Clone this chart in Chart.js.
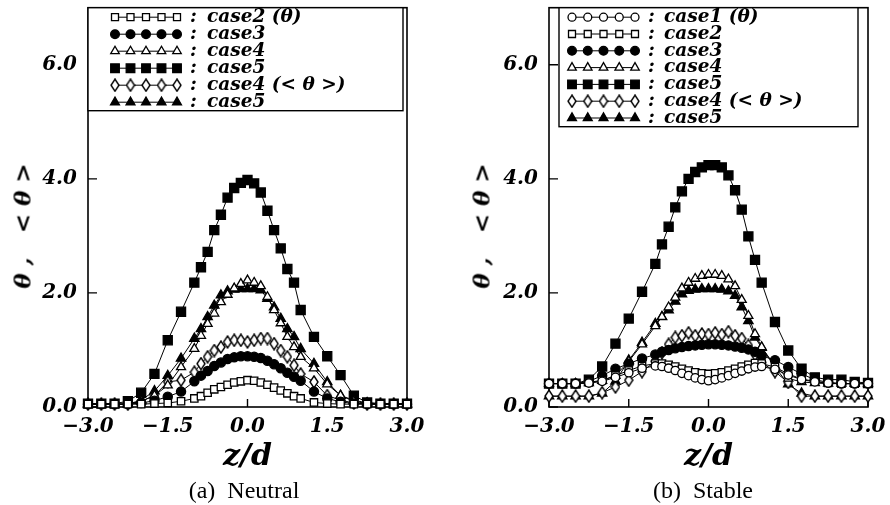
<!DOCTYPE html>
<html>
<head>
<meta charset="utf-8">
<script src="https://cdn.jsdelivr.net/npm/chart.js@4.4.1/dist/chart.umd.min.js"></script>
<style>
  html, body { margin: 0; padding: 0; background: #fff; }
  #wrap { position: relative; width: 890px; height: 505px; overflow: hidden; background: #fff; }
  canvas { position: absolute; top: 0; }
  .ytitle { position: absolute; transform: translate(-50%, -50%) rotate(-90deg); white-space: pre;
            font: italic bold 23px "DejaVu Serif"; color: #000; }
  .cap { position: absolute; transform: translate(-50%, -50%); white-space: pre;
         font: 24px "Liberation Serif"; color: #000; }
</style>
</head>
<body>
<div id="wrap">
  <canvas id="neutral" width="445" height="505" style="left:0"></canvas>
  <canvas id="stable" width="445" height="505" style="left:445px"></canvas>
  <div class="ytitle" style="left:22px; top:226px">θ ,   &lt; θ &gt;</div>
  <div class="ytitle" style="left:481px; top:226px">θ ,   &lt; θ &gt;</div>
  <div class="cap" style="left:244px; top:490px">(a)  Neutral</div>
  <div class="cap" style="left:703px; top:490px">(b)  Stable</div>
</div>
<script>
// ---------------- data ----------------
const zValues = [-3, -2.75, -2.5, -2.25, -2, -1.75, -1.5, -1.25, -1, -0.875, -0.75, -0.625, -0.5, -0.375, -0.25, -0.125,
                 0, 0.125, 0.25, 0.375, 0.5, 0.625, 0.75, 0.875, 1, 1.25, 1.5, 1.75, 2, 2.25, 2.5, 2.75, 3];
const xTickValues = [-3, -1.5, 0, 1.5, 3];
const xTickLabels = ['\u22123.0', '\u22121.5', '0.0', '1.5', '3.0'];
const yTickValues = [0, 1, 2, 3, 4, 5, 6, 7];
const yTickLabels = ['0.0', null, '2.0', null, '4.0', null, '6.0', null];
const xTitle = 'z/d';

// (a) Neutral
const neutralLabels = ['case2 (\u03b8)', 'case3', 'case4', 'case5', 'case4 (< \u03b8 >)', 'case5'];
const neutralCase2 = [0.05,0.05,0.05,0.05,0.05,0.06,0.07,0.10,0.15,0.19,0.25,0.31,0.35,0.39,0.43,0.45,0.47,0.46,0.43,0.39,0.34,0.29,0.24,0.19,0.15,0.08,0.06,0.05,0.05,0.05,0.05,0.05,0.05];
const neutralCase3 = [0.05,0.05,0.05,0.05,0.07,0.11,0.18,0.27,0.45,0.55,0.63,0.72,0.78,0.84,0.87,0.89,0.89,0.88,0.86,0.81,0.75,0.68,0.60,0.53,0.46,0.27,0.15,0.09,0.06,0.05,0.05,0.05,0.05];
const neutralCase4 = [0.05,0.05,0.05,0.05,0.10,0.20,0.38,0.70,1.02,1.25,1.46,1.64,1.84,1.97,2.08,2.16,2.22,2.18,2.12,1.93,1.70,1.47,1.23,1.05,0.88,0.68,0.40,0.20,0.10,0.06,0.05,0.05,0.05];
const neutralCase5 = [0.06,0.06,0.06,0.10,0.25,0.58,1.17,1.67,2.18,2.45,2.72,3.10,3.37,3.67,3.84,3.93,3.98,3.92,3.76,3.44,3.10,2.78,2.42,2.18,1.70,1.23,0.89,0.56,0.20,0.08,0.06,0.06,0.06];
const neutralCase4Mean = [0.05,0.05,0.05,0.05,0.10,0.20,0.44,0.47,0.61,0.76,0.88,0.99,1.05,1.14,1.17,1.17,1.14,1.17,1.20,1.20,1.11,0.99,0.88,0.73,0.58,0.44,0.20,0.12,0.07,0.05,0.05,0.05,0.05];
const neutralCase5Mean = [0.05,0.05,0.05,0.05,0.12,0.28,0.55,0.85,1.20,1.37,1.58,1.78,1.96,2.03,2.06,2.07,2.07,2.07,2.05,1.90,1.75,1.55,1.37,1.23,1.02,0.76,0.44,0.20,0.12,0.07,0.05,0.05,0.05];

// (b) Stable
const stableLabels = ['case1 (\u03b8)', 'case2', 'case3', 'case4', 'case5', 'case4 (< \u03b8 >)', 'case5'];
const stableCase1 = [0.41,0.41,0.41,0.42,0.45,0.52,0.60,0.68,0.72,0.71,0.68,0.64,0.59,0.55,0.51,0.48,0.46,0.48,0.51,0.55,0.59,0.63,0.67,0.70,0.71,0.66,0.56,0.48,0.44,0.42,0.41,0.41,0.41];
const stableCase2 = [0.41,0.41,0.41,0.43,0.47,0.55,0.64,0.72,0.76,0.76,0.74,0.71,0.67,0.64,0.61,0.59,0.58,0.59,0.61,0.64,0.67,0.71,0.74,0.77,0.76,0.70,0.58,0.49,0.45,0.42,0.41,0.41,0.41];
const stableCase3 = [0.41,0.41,0.41,0.45,0.55,0.67,0.76,0.85,0.92,0.97,1.00,1.03,1.05,1.07,1.08,1.09,1.10,1.10,1.09,1.08,1.06,1.04,1.01,0.97,0.90,0.82,0.70,0.58,0.48,0.43,0.41,0.41,0.41];
const stableCase4 = [0.41,0.41,0.41,0.42,0.46,0.55,0.80,1.10,1.42,1.58,1.75,1.92,2.08,2.18,2.25,2.30,2.32,2.32,2.30,2.24,2.12,1.88,1.60,1.28,1.05,0.72,0.50,0.44,0.42,0.41,0.41,0.41,0.41];
const stableCase5 = [0.41,0.41,0.41,0.48,0.71,1.11,1.55,2.02,2.51,2.85,3.16,3.50,3.78,4.00,4.12,4.20,4.24,4.24,4.20,4.06,3.80,3.46,2.99,2.58,2.18,1.49,0.99,0.67,0.52,0.48,0.48,0.44,0.42];
const stableCase4Mean = [0.19,0.19,0.19,0.19,0.25,0.35,0.47,0.62,0.80,0.95,1.10,1.22,1.25,1.30,1.25,1.28,1.27,1.30,1.27,1.32,1.25,1.20,1.08,0.92,0.78,0.62,0.43,0.19,0.19,0.19,0.19,0.19,0.19];
const stableCase5Mean = [0.19,0.19,0.19,0.19,0.24,0.45,0.82,1.13,1.46,1.58,1.70,1.85,1.98,2.04,2.06,2.07,2.07,2.07,2.06,2.03,1.95,1.75,1.51,1.22,1.04,0.70,0.40,0.24,0.19,0.19,0.19,0.19,0.19];

// ---------------- styles ----------------
function makeDiamond() {
  const c = document.createElement('canvas');
  c.width = 10; c.height = 14;
  const g = c.getContext('2d');
  g.beginPath();
  g.moveTo(5, 1); g.lineTo(9, 7); g.lineTo(5, 13); g.lineTo(1, 7); g.closePath();
  g.fillStyle = '#fff'; g.fill();
  g.strokeStyle = '#000'; g.lineWidth = 1.4; g.stroke();
  return c;
}
const diamond = makeDiamond();
const markers = {
  c1:  { pointStyle: 'circle',   pointRadius: 4.2, pointBackgroundColor: '#fff' },
  c2:  { pointStyle: 'rect',     pointRadius: 5.2, pointBackgroundColor: '#fff' },
  c3:  { pointStyle: 'circle',   pointRadius: 4.6, pointBackgroundColor: '#000' },
  c4:  { pointStyle: 'triangle', pointRadius: 5.2, pointBackgroundColor: '#fff' },
  c5:  { pointStyle: 'rect',     pointRadius: 6.4, pointBackgroundColor: '#000' },
  c4m: { pointStyle: diamond,    pointRadius: 5,   pointBackgroundColor: '#fff' },
  c5m: { pointStyle: 'triangle', pointRadius: 5.4, pointBackgroundColor: '#000' }
};

function series(label, values, mk) {
  return Object.assign({
    label: label,
    data: zValues.map((z, i) => ({ x: z, y: values[i] })),
    showLine: true,
    borderColor: '#000',
    borderWidth: 1,
    pointBorderColor: '#000',
    pointBorderWidth: 1.3,
    pointHoverRadius: mk.pointRadius,
    clip: false
  }, mk);
}

const tickFont = { family: 'DejaVu Serif', style: 'italic', weight: 'bold', size: 20 };

// frame + inward ticks
const framePlugin = {
  id: 'frame',
  beforeDatasetsDraw(chart) {
    const { ctx, chartArea: a, scales } = chart;
    ctx.save();
    ctx.strokeStyle = '#000';
    ctx.lineWidth = 1.6;
    ctx.strokeRect(a.left, a.top, a.right - a.left, a.bottom - a.top);
    ctx.lineWidth = 1.4;
    ctx.beginPath();
    scales.x.ticks.forEach(t => {
      const px = scales.x.getPixelForValue(t.value);
      ctx.moveTo(px, a.bottom); ctx.lineTo(px, a.bottom - 8);
    });
    scales.y.ticks.forEach(t => {
      const py = scales.y.getPixelForValue(t.value);
      ctx.moveTo(a.left, py); ctx.lineTo(a.left + 9, py);
    });
    ctx.stroke();
    ctx.restore();
  }
};

// boxed legend with 5-marker samples
const boxLegend = {
  id: 'boxLegend',
  afterDatasetsDraw(chart, args, o) {
    const { ctx, chartArea: a } = chart;
    const L = a.left + o.insetL, R = a.right - o.insetR, T = a.top, B = a.top + o.height;
    ctx.save();
    ctx.fillStyle = '#fff';
    ctx.fillRect(L, T, R - L, B - T);
    ctx.strokeStyle = '#000';
    ctx.lineWidth = 1.4;
    ctx.strokeRect(L, T, R - L, B - T);
    chart.data.datasets.forEach((ds, i) => {
      const y = T + o.first + i * o.step;
      const x0 = L + o.sampleX, x1 = x0 + o.sampleW;
      ctx.strokeStyle = '#000';
      ctx.lineWidth = 1;
      ctx.beginPath(); ctx.moveTo(x0, y); ctx.lineTo(x1, y); ctx.stroke();
      for (let k = 0; k < 5; k++) {
        const x = x0 + k * (x1 - x0) / 4;
        ctx.fillStyle = ds.pointBackgroundColor;
        ctx.strokeStyle = '#000';
        ctx.lineWidth = 1.3;
        Chart.helpers.drawPoint(ctx, { pointStyle: ds.pointStyle, radius: ds.pointRadius * 0.95, borderWidth: 1.3, rotation: 0 }, x, y);
      }
      ctx.fillStyle = '#000';
      ctx.font = 'italic bold 18.5px "DejaVu Serif"';
      ctx.textBaseline = 'middle';
      ctx.textAlign = 'left';
      ctx.fillText(':', L + o.colonX, y);
      ctx.fillText(ds.label, L + o.textX, y);
    });
    ctx.restore();
  }
};

function makeChart(id, datasets, yWidth, rightPad, legendOpts) {
  return new Chart(document.getElementById(id), {
    type: 'scatter',
    data: { datasets: datasets },
    plugins: [framePlugin, boxLegend],
    options: {
      responsive: false,
      maintainAspectRatio: false,
      animation: false,
      events: [],
      layout: { padding: { left: 0, right: rightPad, top: 4.5, bottom: 0 } },
      plugins: {
        legend: { display: false },
        tooltip: { enabled: false },
        boxLegend: legendOpts
      },
      scales: {
        x: {
          type: 'linear', min: -3, max: 3,
          afterBuildTicks: s => { s.ticks = xTickValues.map(v => ({ value: v })); },
          ticks: {
            callback: v => xTickLabels[xTickValues.indexOf(v)],
            font: tickFont, color: '#000', padding: 8, maxRotation: 0, autoSkip: false
          },
          grid: { display: false, drawTicks: false },
          border: { display: false },
          title: { display: true, text: xTitle, color: '#000',
                   font: { family: 'DejaVu Serif', style: 'italic', weight: 'bold', size: 30 },
                   padding: { top: 0, bottom: 30 } },
          afterFit: s => { s.height = 98; s.paddingLeft = 0; s.paddingRight = 0; }
        },
        y: {
          type: 'linear', min: 0, max: 7,
          afterBuildTicks: s => { s.ticks = yTickValues.map(v => ({ value: v })); },
          ticks: {
            callback: v => yTickLabels[yTickValues.indexOf(v)],
            font: tickFont, color: '#000', padding: 11, autoSkip: false
          },
          grid: { display: false, drawTicks: false },
          border: { display: false },
          afterFit: s => { s.width = yWidth; s.paddingTop = 0; s.paddingBottom = 0; }
        }
      }
    }
  });
}

makeChart('neutral', [
  series(neutralLabels[0], neutralCase2, markers.c2),
  series(neutralLabels[1], neutralCase3, markers.c3),
  series(neutralLabels[2], neutralCase4, markers.c4),
  series(neutralLabels[3], neutralCase5, markers.c5),
  series(neutralLabels[4], neutralCase4Mean, markers.c4m),
  series(neutralLabels[5], neutralCase5Mean, markers.c5m)
], 88, 38, { insetL: 0, insetR: 4, height: 103, first: 9.5, step: 17, sampleX: 27, sampleW: 62, colonX: 102, textX: 119 });

makeChart('stable', [
  series(stableLabels[0], stableCase1, markers.c1),
  series(stableLabels[1], stableCase2, markers.c2),
  series(stableLabels[2], stableCase3, markers.c3),
  series(stableLabels[3], stableCase4, markers.c4),
  series(stableLabels[4], stableCase5, markers.c5),
  series(stableLabels[5], stableCase4Mean, markers.c4m),
  series(stableLabels[6], stableCase5Mean, markers.c5m)
], 104, 22, { insetL: 10, insetR: 10, height: 119, first: 9.5, step: 16.8, sampleX: 13, sampleW: 63, colonX: 89, textX: 105 });
</script>
</body>
</html>
